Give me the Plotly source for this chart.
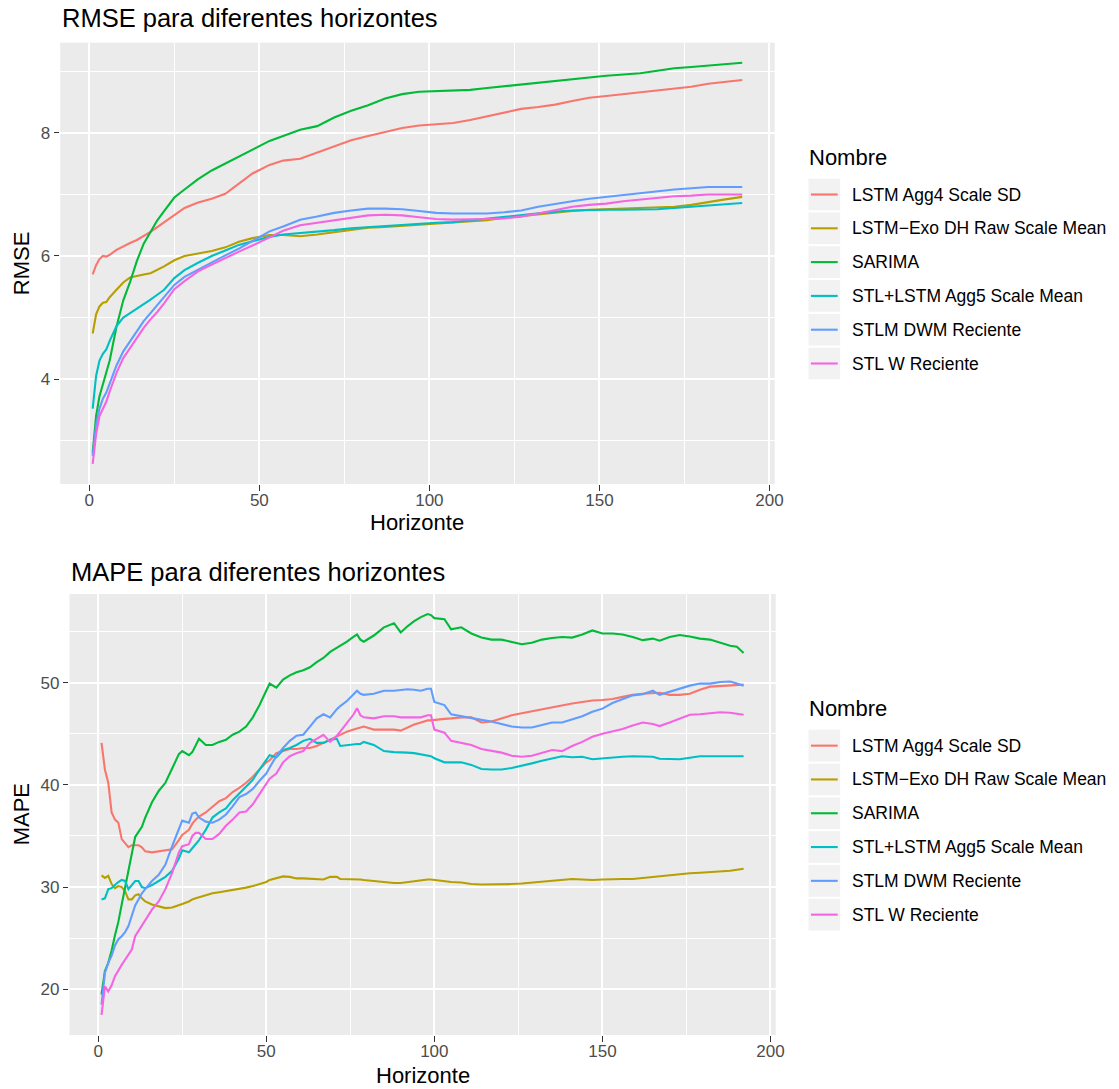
import plotly.graph_objects as go

W, H = 1119, 1089
FONT = "Liberation Sans, Arial, Helvetica, sans-serif"

series_names = ["LSTM Agg4 Scale SD", "LSTM\u2212Exo DH Raw Scale Mean", "SARIMA",
                "STL+LSTM Agg5 Scale Mean", "STLM DWM Reciente", "STL W Reciente"]
series_colors = ["#F8766D", "#B79F00", "#00BA38", "#00BFC4", "#619CFF", "#F564E3"]

# ---------------- RMSE ----------------
rmse_h = [1, 2, 3, 4, 5, 6, 8, 10, 12, 14, 16, 18, 20, 22, 25, 28, 32, 36, 40, 44, 48, 53, 57, 62, 67,
          72, 77, 82, 87, 92, 97, 102, 107, 112, 117, 122, 127, 132, 137, 142, 147, 152, 157, 162,
          167, 172, 177, 182, 187, 192]
rmse_lstm_agg4 = [5.70, 5.85, 5.95, 6.00, 5.99, 6.02, 6.10, 6.16, 6.21, 6.26, 6.32, 6.39, 6.47, 6.55, 6.67,
                  6.78, 6.87, 6.93, 7.01, 7.18, 7.34, 7.48, 7.55, 7.58, 7.68, 7.78, 7.88, 7.95, 8.01, 8.08,
                  8.12, 8.14, 8.16, 8.21, 8.27, 8.34, 8.39, 8.42, 8.46, 8.52, 8.57, 8.60, 8.63, 8.65, 8.68,
                  8.72, 8.75, 8.80, 8.83, 8.86]
rmse_lstm_exo = [4.74, 5.05, 5.18, 5.24, 5.25, 5.33, 5.45, 5.57, 5.65, 5.68, 5.70, 5.72, 5.77, 5.83, 5.93,
                 6.00, 6.04, 6.08, 6.14, 6.23, 6.29, 6.34, 6.34, 6.32, 6.35, 6.39, 6.42, 6.46, 6.47, 6.49,
                 6.51, 6.53, 6.54, 6.56, 6.58, 6.62, 6.65, 6.68, 6.71, 6.73, 6.75, 6.76, 6.76, 6.77, 6.78,
                 6.80, 6.83, 6.88, 6.92, 6.96]
rmse_sarima = [2.80, 3.40, 3.72, 3.92, 4.10, 4.30, 4.85, 5.28, 5.58, 5.92, 6.20, 6.40, 6.58, 6.73, 6.95,
               7.08, 7.25, 7.39, 7.50, 7.61, 7.73, 7.87, 7.95, 8.05, 8.11, 8.25, 8.36, 8.45, 8.56, 8.63,
               8.67, 8.68, 8.69, 8.70, 8.73, 8.76, 8.79, 8.81, 8.84, 8.87, 8.90, 8.93, 8.95, 8.97, 9.01,
               9.05, 9.07, 9.09, 9.11, 9.14]
rmse_stl_lstm = [3.52, 4.05, 4.30, 4.41, 4.48, 4.62, 4.86, 5.00, 5.07, 5.14, 5.21, 5.29, 5.37, 5.45, 5.64,
                 5.77, 5.89, 6.00, 6.09, 6.18, 6.24, 6.31, 6.35, 6.37, 6.39, 6.42, 6.45, 6.47, 6.49, 6.51,
                 6.52, 6.54, 6.55, 6.58, 6.61, 6.64, 6.67, 6.69, 6.72, 6.74, 6.75, 6.75, 6.75, 6.75, 6.76,
                 6.78, 6.80, 6.83, 6.85, 6.86]
rmse_stlm_dwm = [2.75, 3.25, 3.52, 3.68, 3.78, 3.93, 4.22, 4.45, 4.62, 4.78, 4.94, 5.07, 5.20, 5.34, 5.53,
                 5.66, 5.78, 5.90, 6.01, 6.12, 6.25, 6.40, 6.48, 6.59, 6.64, 6.70, 6.74, 6.77, 6.77, 6.76,
                 6.73, 6.70, 6.69, 6.69, 6.69, 6.71, 6.74, 6.80, 6.85, 6.89, 6.93, 6.96, 7.00, 7.03, 7.05,
                 7.08, 7.10, 7.12, 7.12, 7.12]
rmse_stl_w = [2.62, 3.10, 3.40, 3.52, 3.63, 3.80, 4.10, 4.34, 4.51, 4.68, 4.83, 4.97, 5.09, 5.23, 5.46,
              5.59, 5.75, 5.86, 5.97, 6.07, 6.17, 6.31, 6.41, 6.50, 6.54, 6.59, 6.63, 6.66, 6.67, 6.66,
              6.63, 6.60, 6.59, 6.59, 6.60, 6.61, 6.64, 6.69, 6.74, 6.80, 6.83, 6.85, 6.89, 6.92, 6.95,
              6.97, 6.98, 7.00, 7.00, 7.00]

# ---------------- MAPE ----------------
mape_h = [1, 2, 3, 4, 5, 6, 7, 8, 9, 10, 11, 12, 13, 14, 16, 18, 20, 22, 24, 25, 27, 28, 29, 30,
          32, 34, 36, 38, 40, 42, 44, 46, 48, 50, 51, 53, 55, 57, 59, 61, 63, 65, 67, 69, 71, 72,
          74, 76, 77, 78, 79, 82, 85, 88, 90, 92, 94, 96, 98, 99, 100, 103, 105, 108, 111, 114, 117,
          120, 123, 126, 129, 132, 135, 138, 141, 144, 147, 150, 153, 156, 159, 162, 165, 167, 170,
          173, 176, 179, 182, 185, 188, 190, 192]
mape_lstm_agg4 = [44.1, 41.5, 40.2, 37.3, 36.6, 36.3, 34.7, 34.3, 33.9, 34.1, 34.1, 34.1, 33.9, 33.5,
                  33.4, 33.5, 33.6, 33.7, 34.6, 35.1, 35.6, 36.2, 36.6, 36.9, 37.3, 37.9, 38.4, 38.7,
                  39.3, 39.7, 40.2, 40.8, 41.5, 42.2, 42.4, 43.1, 43.3, 43.5, 43.5, 43.6, 43.6, 43.8,
                  44.1, 44.4, 44.7, 44.9, 45.2, 45.4, 45.5, 45.6, 45.7, 45.4, 45.4, 45.4, 45.3, 45.6,
                  45.9, 46.1, 46.3, 46.3, 46.35, 46.45, 46.5, 46.6, 46.6, 46.1, 46.2, 46.5, 46.8, 47.0,
                  47.2, 47.35, 47.6, 47.8, 47.95, 48.1, 48.25, 48.3, 48.4, 48.6, 48.8, 48.9, 48.95, 49.0,
                  48.8, 48.8, 48.9, 49.3, 49.6, 49.65, 49.7, 49.75, 49.8]
mape_lstm_exo = [31.15, 30.9, 31.1, 30.3, 29.9, 30.1, 30.0, 29.6, 28.8, 28.8, 29.2, 29.3, 28.9, 28.6,
                 28.3, 28.1, 27.95, 28.0, 28.2, 28.35, 28.6, 28.8, 28.9, 29.0, 29.2, 29.4, 29.5, 29.6,
                 29.7, 29.8, 29.95, 30.1, 30.3, 30.5, 30.7, 30.9, 31.05, 31.0, 30.85, 30.85, 30.8, 30.8,
                 30.75, 31.0, 31.0, 30.8, 30.8, 30.8, 30.75, 30.75, 30.7, 30.6, 30.45, 30.4, 30.4, 30.5,
                 30.6, 30.65, 30.75, 30.75, 30.7, 30.6, 30.5, 30.45, 30.3, 30.25, 30.25, 30.3, 30.3,
                 30.35, 30.45, 30.5, 30.65, 30.75, 30.8, 30.75, 30.7, 30.75, 30.8, 30.8, 30.8, 30.9,
                 31.0, 31.1, 31.2, 31.3, 31.35, 31.4, 31.45, 31.5, 31.6, 31.7, 31.8]
mape_sarima = [19.5, 21.8, 22.6, 23.8, 25.3, 26.6, 28.3, 30.0, 31.7, 33.3, 34.9, 35.4, 35.9, 36.8,
               38.3, 39.4, 40.2, 41.6, 43.0, 43.3, 42.9, 43.2, 43.9, 44.5, 43.9, 43.9, 44.2, 44.4,
               44.9, 45.2, 45.7, 46.6, 47.8, 49.2, 49.9, 49.5, 50.3, 50.7, 51.0, 51.2, 51.5, 52.0,
               52.4, 53.0, 53.4, 53.6, 54.0, 54.5, 54.7, 54.2, 54.0, 54.6, 55.4, 55.8, 54.9, 55.5,
               56.0, 56.4, 56.7, 56.6, 56.3, 56.2, 55.2, 55.4, 54.8, 54.4, 54.2, 54.2, 54.0, 53.75,
               53.9, 54.2, 54.35, 54.45, 54.4, 54.7, 55.1, 54.8, 54.8, 54.7, 54.45, 54.15, 54.3, 54.1,
               54.45, 54.65, 54.5, 54.3, 54.2, 53.9, 53.6, 53.5, 52.9]
mape_stl_lstm = [28.8, 28.9, 29.8, 29.9, 30.2, 30.5, 30.7, 30.6, 29.8, 30.2, 30.6, 30.6, 30.0, 29.9,
                 30.2, 30.6, 31.0, 31.6, 32.8, 33.6, 33.4, 33.8, 34.2, 34.6, 35.6, 36.8, 37.3, 37.7,
                 38.5, 39.2, 39.9, 40.5, 41.5, 42.4, 42.9, 42.7, 43.4, 43.6, 43.9, 44.3, 44.5, 44.1,
                 44.1, 44.4, 44.5, 43.8, 43.9, 44.0, 44.0, 44.0, 44.2, 43.9, 43.3, 43.2, 43.2, 43.15,
                 43.1, 43.0, 42.9, 42.8, 42.6, 42.2, 42.2, 42.2, 41.95, 41.55, 41.5, 41.5, 41.65, 41.85,
                 42.1, 42.35, 42.6, 42.8, 42.7, 42.75, 42.5, 42.6, 42.7, 42.75, 42.8, 42.8, 42.75, 42.55,
                 42.5, 42.5, 42.65, 42.8, 42.8, 42.8, 42.8, 42.8, 42.8]
mape_stlm_dwm = [18.5, 21.6, 22.6, 23.3, 24.3, 24.9, 25.2, 25.6, 26.2, 27.2, 28.2, 28.8, 29.4, 29.8,
                 30.6, 31.2, 32.2, 34.0, 35.6, 36.5, 36.3, 37.2, 37.3, 36.8, 36.4, 36.3, 36.6, 37.1,
                 37.9, 38.8, 39.1, 39.6, 40.4, 41.1, 41.7, 42.8, 43.6, 44.3, 44.8, 44.9, 45.7, 46.5,
                 46.9, 46.6, 47.4, 47.7, 48.2, 48.9, 49.2, 48.9, 48.8, 48.9, 49.2, 49.2, 49.3, 49.35,
                 49.3, 49.2, 49.4, 49.4, 48.1, 47.8, 46.9, 46.7, 46.5, 46.35, 46.2, 45.95, 45.7, 45.6,
                 45.6, 45.85, 46.1, 46.1, 46.4, 46.7, 47.15, 47.45, 48.0, 48.4, 48.75, 48.85, 49.2, 48.8,
                 49.1, 49.4, 49.7, 49.9, 49.9, 50.05, 50.1, 49.9, 49.7]
mape_stl_w = [17.5, 20.3, 19.8, 20.4, 21.3, 21.9, 22.4, 22.9, 23.4, 23.9, 25.2, 25.7, 26.2, 26.7,
              27.8, 28.6, 29.8, 31.4, 33.4, 34.0, 34.2, 35.0, 35.3, 35.3, 34.7, 34.7, 35.2, 36.0,
              36.6, 37.3, 37.4, 38.1, 39.1, 40.2, 40.6, 41.1, 42.2, 42.8, 43.1, 43.3, 44.1, 44.5,
              44.9, 44.2, 44.8, 45.2, 46.0, 46.9, 47.5, 46.8, 46.6, 46.5, 46.7, 46.7, 46.6, 46.6,
              46.6, 46.6, 46.8, 46.8, 45.4, 45.1, 44.3, 44.1, 43.9, 43.5, 43.3, 43.15, 42.85, 42.75,
              42.85, 43.1, 43.4, 43.3, 43.8, 44.2, 44.7, 45.0, 45.2, 45.45, 45.8, 46.1, 45.95, 45.75,
              46.1, 46.45, 46.85, 46.9, 47.0, 47.1, 47.05, 46.95, 46.85]

x_ticks = [0, 50, 100, 150, 200]
x_minor = [25, 75, 125, 175]
rmse_ticks = [4, 6, 8]
rmse_minor = [3, 5, 7, 9]
mape_ticks = [20, 30, 40, 50]
mape_minor = [25, 35, 45, 55]

rmse_series = [rmse_lstm_agg4, rmse_lstm_exo, rmse_sarima, rmse_stl_lstm, rmse_stlm_dwm, rmse_stl_w]
mape_series = [mape_lstm_agg4, mape_lstm_exo, mape_sarima, mape_stl_lstm, mape_stlm_dwm, mape_stl_w]


def px(x):
    return x / W


def py(y):
    return 1 - y / H


def expand(lo, hi, f=0.05):
    d = (hi - lo) * f
    return [lo - d, hi + d]


fig = go.Figure()
for name, color, vals in zip(series_names, series_colors, rmse_series):
    fig.add_trace(go.Scatter(x=rmse_h, y=vals, mode="lines", name=name,
                             line=dict(color=color, width=2.1), xaxis="x", yaxis="y",
                             showlegend=False))
for name, color, vals in zip(series_names, series_colors, mape_series):
    fig.add_trace(go.Scatter(x=mape_h, y=vals, mode="lines", name=name,
                             line=dict(color=color, width=2.1), xaxis="x2", yaxis="y2",
                             showlegend=False))

all_h = rmse_h + mape_h
xr = expand(min(all_h), max(all_h))
rmse_all = [v for s in rmse_series for v in s]
mape_all = [v for s in mape_series for v in s]

TICKFONT = dict(family=FONT, size=17, color="#4D4D4D")


def xaxis_cfg(domain, anchor):
    return dict(domain=domain, anchor=anchor, range=xr, tickmode="array", tickvals=x_ticks,
                ticks="outside", ticklen=5.5, tickwidth=1.1, tickcolor="#333333",
                tickfont=TICKFONT, ticklabelstandoff=-5,
                showgrid=True, gridcolor="white", gridwidth=2.1, zeroline=False, showline=False,
                minor=dict(tickmode="array", tickvals=x_minor, showgrid=True, gridcolor="white",
                           gridwidth=1.1, ticks=""))


def yaxis_cfg(domain, anchor, rng, ticks, minor):
    return dict(domain=domain, anchor=anchor, range=rng, tickmode="array", tickvals=ticks,
                ticks="outside", ticklen=5.5, tickwidth=1.1, tickcolor="#333333",
                tickfont=TICKFONT,
                showgrid=True, gridcolor="white", gridwidth=2.1, zeroline=False, showline=False,
                minor=dict(tickmode="array", tickvals=minor, showgrid=True, gridcolor="white",
                           gridwidth=1.1, ticks=""))


top_x = [60.7, 781.0]
top_y = [42.7, 484.0]
bot_x = [70.0, 782.0]
bot_y = [594.0, 1035.0]

fig.update_layout(
    width=W, height=H, margin=dict(l=0, r=0, t=0, b=0),
    paper_bgcolor="white", plot_bgcolor="#EBEBEB",
    font=dict(family=FONT),
    xaxis=xaxis_cfg([px(top_x[0]), px(top_x[1])], "y"),
    yaxis=yaxis_cfg([py(top_y[1]), py(top_y[0])], "x", expand(min(rmse_all), max(rmse_all)),
                    rmse_ticks, rmse_minor),
    xaxis2=xaxis_cfg([px(bot_x[0]), px(bot_x[1])], "y2"),
    yaxis2=yaxis_cfg([py(bot_y[1]), py(bot_y[0])], "x2", expand(min(mape_all), max(mape_all)),
                     mape_ticks, mape_minor),
)

annotations = []
shapes = []


def add_text(text, x, y, size, color="black", xanchor="left", angle=0):
    annotations.append(dict(text=text, x=px(x), y=py(y), xref="paper", yref="paper",
                            xanchor=xanchor, yanchor="middle", showarrow=False, textangle=angle,
                            font=dict(family=FONT, size=size, color=color)))


# titles
add_text("RMSE para diferentes horizontes", top_x[0], 18, 25.5)
add_text("MAPE para diferentes horizontes", bot_x[0], 572, 25.5)
# axis titles
add_text("Horizonte", (top_x[0] + top_x[1]) / 2, 522.5, 22, xanchor="center")
add_text("Horizonte", (bot_x[0] + bot_x[1]) / 2, 1075.5, 22, xanchor="center")
add_text("RMSE", 22, (top_y[0] + top_y[1]) / 2, 22, xanchor="center", angle=-90)
add_text("MAPE", 22, (bot_y[0] + bot_y[1]) / 2, 22, xanchor="center", angle=-90)


def add_legend(offset):
    add_text("Nombre", 814, 157.5 + offset, 22)
    for i, (name, color) in enumerate(zip(series_names, series_colors)):
        cy = 194.5 + 33.8 * i + offset
        shapes.append(dict(type="rect", xref="paper", yref="paper",
                           x0=px(815), x1=px(847), y0=py(cy + 15.8), y1=py(cy - 15.8),
                           fillcolor="#F2F2F2", line=dict(width=0), layer="above"))
        shapes.append(dict(type="line", xref="paper", yref="paper",
                           x0=px(817.5), x1=px(844.5), y0=py(cy), y1=py(cy),
                           line=dict(color=color, width=2.1), layer="above"))
        add_text(name, 857, cy, 17.5)


add_legend(0)
add_legend((bot_y[0] + bot_y[1]) / 2 - (top_y[0] + top_y[1]) / 2)

fig.update_layout(annotations=annotations, shapes=shapes)
fig.write_html("out.html", config={"displayModeBar": False})
